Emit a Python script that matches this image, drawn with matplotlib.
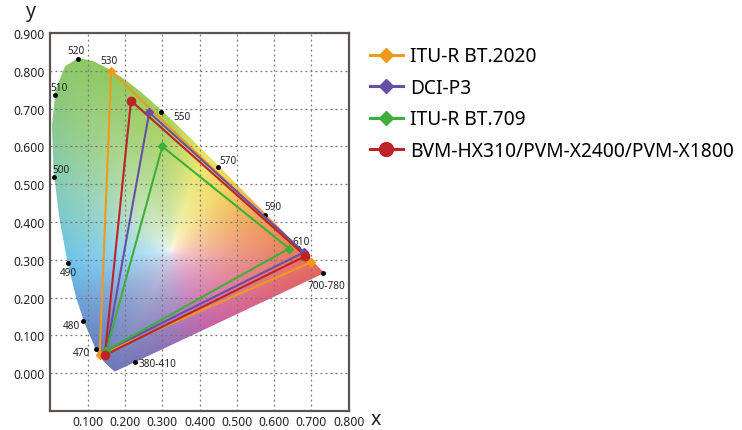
import numpy as np
import matplotlib
matplotlib.use("Agg")
from matplotlib import pyplot as plt
from matplotlib.patches import Polygon
from matplotlib.colors import to_rgb

plt.rcParams['font.family'] = ['Noto Sans', 'DejaVu Sans']

# CIE 1931 spectral locus (x, y)
locus_x = [0.1741, 0.1738, 0.1733, 0.1726, 0.1714, 0.1689, 0.1644, 0.1566, 0.1440,
           0.1241, 0.0913, 0.0687, 0.0454, 0.0235, 0.0082, 0.0039, 0.0139, 0.0389,
           0.0743, 0.1142, 0.1547, 0.1929, 0.2296, 0.2658, 0.3016, 0.3373, 0.3731,
           0.4087, 0.4441, 0.4788, 0.5125, 0.5448, 0.5752, 0.6029, 0.6270, 0.6482,
           0.6658, 0.6801, 0.6915, 0.7006, 0.7079, 0.7190, 0.7260, 0.7300, 0.7347]
locus_y = [0.0050, 0.0049, 0.0048, 0.0048, 0.0051, 0.0069, 0.0109, 0.0177, 0.0297,
           0.0578, 0.1327, 0.2007, 0.2950, 0.4127, 0.5384, 0.6548, 0.7502, 0.8120,
           0.8338, 0.8262, 0.8059, 0.7816, 0.7543, 0.7243, 0.6923, 0.6589, 0.6245,
           0.5896, 0.5547, 0.5202, 0.4866, 0.4544, 0.4242, 0.3965, 0.3725, 0.3514,
           0.3340, 0.3197, 0.3083, 0.2993, 0.2920, 0.2809, 0.2740, 0.2700, 0.2653]

# edge colours of the fill at points on its border
edge_x = [0.174, 0.300, 0.420, 0.550, 0.735, 0.666, 0.575, 0.479, 0.409, 0.302,
          0.155, 0.074, 0.014, 0.008, 0.045, 0.091, 0.124]
edge_y = [0.005, 0.064, 0.120, 0.180, 0.265, 0.334, 0.424, 0.520, 0.590, 0.692,
          0.806, 0.834, 0.750, 0.538, 0.295, 0.133, 0.058]
edge_c = ["#7078B8", "#8C74B8", "#C462A8", "#D8648C", "#E2645E", "#EA7E58", "#F0A452",
          "#F2D458", "#E8E468", "#A6D05C", "#90C860", "#8CC864", "#8CC878", "#88CCB0",
          "#6EC4EC", "#6A92CC", "#6880C0"]
white_xy = (0.325, 0.325)

# wavelength markers
wl_labels = ["520", "510", "500", "550", "570", "590", "610", "700-780", "490", "480", "470", "380-410"]
wl_x = [0.074, 0.012, 0.009, 0.297, 0.449, 0.576, 0.665, 0.732, 0.047, 0.087, 0.122, 0.226]
wl_y = [0.832, 0.735, 0.518, 0.690, 0.546, 0.419, 0.331, 0.264, 0.292, 0.139, 0.065, 0.030]
wl_off = [(-2, 8), (4, 8), (7, 8), (12, -4), (10, 6), (8, 8), (3, 7), (3, -12), (0, -10), (-11, -5), (-15, -4), (4, -2)]
wl_ha = ["center", "center", "center", "left", "center", "center", "center", "center", "center", "center", "center", "left"]

# 530 label (dot is under the BT.2020 marker)
label530 = "530"
pos530 = (0.160, 0.806)

names = ["ITU-R BT.2020", "DCI-P3", "ITU-R BT.709", "BVM-HX310/PVM-X2400/PVM-X1800"]
gam_x = [[0.698, 0.163, 0.132], [0.680, 0.265, 0.150], [0.640, 0.300, 0.150], [0.684, 0.216, 0.146]]
gam_y = [[0.293, 0.799, 0.048], [0.320, 0.690, 0.060], [0.330, 0.600, 0.060], [0.310, 0.721, 0.048]]
colors = ["#EE9B1C", "#6650A6", "#3DAF3A", "#BE2326"]
markers = ["D", "D", "D", "o"]

fig = plt.figure(figsize=(7.42, 4.31), dpi=100)
ax = fig.add_axes([0.068, 0.044, 0.402, 0.877])
ax.set_xlim(0, 0.8)
ax.set_ylim(-0.1, 0.9)

# colour fill: hue by angle round the white point, fading to white at the centre
gx = np.linspace(0, 0.8, 500)
gy = np.linspace(-0.1, 0.9, 600)
X, Y = np.meshgrid(gx, gy)
wx, wy = white_xy
ang = np.arctan2(Y - wy, X - wx)
dist = np.hypot(X - wx, Y - wy)

# border distance as a function of angle (densified outline)
lx = np.array(locus_x + locus_x[:1])
ly = np.array(locus_y + locus_y[:1])
t = np.linspace(0, 1, 40, endpoint=False)
bx = np.concatenate([lx[i] + (lx[i + 1] - lx[i]) * t for i in range(len(lx) - 1)])
by = np.concatenate([ly[i] + (ly[i + 1] - ly[i]) * t for i in range(len(ly) - 1)])
ba = np.arctan2(by - wy, bx - wx)
bd = np.hypot(bx - wx, by - wy)
o = np.argsort(ba)
border = np.interp(ang, ba[o], bd[o], period=2 * np.pi)
r = np.clip(dist / border, 0, 1)

ea = np.arctan2(np.array(edge_y) - wy, np.array(edge_x) - wx)
ec = np.array([to_rgb(c) for c in edge_c])
o = np.argsort(ea)
edge = np.stack([np.interp(ang, ea[o], ec[o, k], period=2 * np.pi) for k in range(3)], axis=-1)
f = (r ** 0.45)[..., None]
rgb = np.clip(1 - (1 - edge) * f, 0, 1)

im = ax.imshow(rgb, extent=[0, 0.8, -0.1, 0.9], origin="lower", aspect="auto",
               interpolation="bilinear", zorder=0)
shape = Polygon(np.column_stack([locus_x, locus_y]), closed=True,
                transform=ax.transData, facecolor="none", edgecolor="none")
ax.add_patch(shape)
im.set_clip_path(shape)

for lab, x, y, off, ha in zip(wl_labels, wl_x, wl_y, wl_off, wl_ha):
    ax.plot(x, y, "o", color="black", ms=2.5, zorder=3)
    ax.annotate(lab, (x, y), xytext=off, textcoords="offset pixels",
                ha=ha, va="center", fontsize=7.2, color="#222222", zorder=4)
ax.annotate(label530, pos530, xytext=(-1, 8), textcoords="offset pixels",
            ha="center", va="center", fontsize=7.2, color="#222222", zorder=4)

for name, xs, ys, c, m in zip(names, gam_x, gam_y, colors, markers):
    ax.plot(xs + xs[:1], ys + ys[:1], color=c, lw=1.5, zorder=5)
    ax.plot(xs, ys, linestyle="none", marker=m, color=c, ms=4.5 if m == "D" else 6, zorder=6)
    ax.plot([], [], color=c, lw=2.2, marker=m, ms=7.2 if m == "D" else 10, label=name)

ax.set_xticks([0.1, 0.2, 0.3, 0.4, 0.5, 0.6, 0.7, 0.8])
ax.set_yticks([0.0, 0.1, 0.2, 0.3, 0.4, 0.5, 0.6, 0.7, 0.8, 0.9])
ax.set_xticklabels(["%.3f" % v for v in ax.get_xticks()])
ax.set_yticklabels(["%.3f" % v for v in ax.get_yticks()])
ax.tick_params(length=0, labelsize=8.8, colors="#222222")
ax.tick_params(axis="x", pad=3)
ax.tick_params(axis="y", pad=4)
ax.grid(True, linestyle=(0, (1.5, 2.5)), color="#777777", lw=0.9, zorder=2)
ax.set_axisbelow(False)
for s in ax.spines.values():
    s.set_color("#5a5552")
    s.set_linewidth(1.6)
    s.set_zorder(7)

fig.text(0.041, 0.972, "y", fontsize=14, ha="center", va="center", color="#222222")
fig.text(0.506, 0.025, "x", fontsize=14, ha="center", va="center", color="#222222")

fig.legend(loc="upper left", bbox_to_anchor=(0.4987, 0.89), frameon=False,
           fontsize=13.8, handlelength=1.7, labelspacing=0.6, handletextpad=0.4,
           borderpad=0, borderaxespad=0)

fig.savefig("out.png", dpi=100)
